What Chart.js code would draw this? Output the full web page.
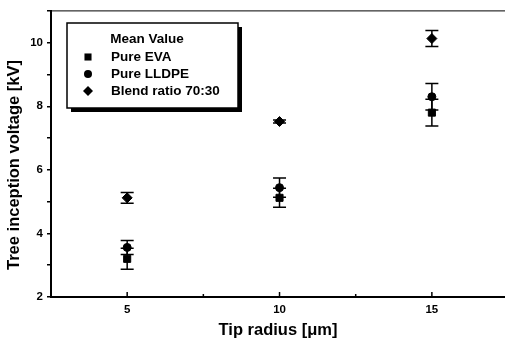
<!DOCTYPE html>
<html>
<head>
<meta charset="utf-8">
<script src="https://cdn.jsdelivr.net/npm/chart.js@4"></script>
<style>
  html, body { margin: 0; padding: 0; background: #fff; overflow: hidden; }
  #wrap { width: 505px; height: 343px; overflow: hidden; }
</style>
</head>
<body>
<div id="wrap"><canvas id="chartCanvas" width="511" height="343"></canvas></div>
<script>
// Datos
const radios = [5, 10, 15];
const evaMedia = [3.2, 5.12, 7.8];
const evaError = [0.33, 0.3, 0.42];
const lldpeMedia = [3.56, 5.44, 8.3];
const lldpeError = [0.22, 0.3, 0.42];
const mezclaMedia = [5.12, 7.52, 10.13];
const mezclaError = [0.17, 0.05, 0.25];
const etiquetasX = [5, 10, 15];
const etiquetasY = [2, 4, 6, 8, 10];

const fuente = '"Liberation Sans", Arial, sans-serif';

function puntos(medias) {
    return radios.map((r, i) => ({ x: r, y: medias[i] }));
}

// Barras de error dibujadas con las escalas de la grafica
const barrasError = {
    id: 'barrasError',
    afterDatasetsDraw(chart) {
        const c = chart.ctx;
        const sx = chart.scales.x, sy = chart.scales.y;
        c.save();
        c.strokeStyle = '#000';
        c.lineWidth = 1.5;
        chart.data.datasets.forEach(ds => {
            ds.puntos.forEach((p, i) => {
                const px = sx.getPixelForValue(p.x);
                const arriba = sy.getPixelForValue(p.y + ds.errores[i]);
                const abajo = sy.getPixelForValue(p.y - ds.errores[i]);
                c.beginPath();
                c.moveTo(px, arriba); c.lineTo(px, abajo);
                c.moveTo(px - 6.5, arriba); c.lineTo(px + 6.5, arriba);
                c.moveTo(px - 6.5, abajo); c.lineTo(px + 6.5, abajo);
                c.stroke();
            });
        });
        c.restore();
    },
    afterDraw(chart) {
        const c = chart.ctx;
        const a = chart.chartArea;
        const sx = chart.scales.x;
        c.save();
        // marcas del eje x hacia dentro
        c.strokeStyle = '#000';
        c.lineWidth = 1.5;
        [5, 7.5, 10, 12.5, 15].forEach(v => {
            const px = sx.getPixelForValue(v);
            const largo = etiquetasX.includes(v) ? 5 : 3;
            c.beginPath();
            c.moveTo(px, a.bottom); c.lineTo(px, a.bottom - largo);
            c.stroke();
        });
        // borde superior
        c.lineWidth = 1;
        c.beginPath();
        c.moveTo(a.left, a.top); c.lineTo(a.right, a.top);
        c.stroke();

        // titulos de los ejes
        c.fillStyle = '#000';
        c.textAlign = 'center';
        c.textBaseline = 'middle';
        c.font = 'bold 16.5px ' + fuente;
        c.fillText('Tip radius [\u03bcm]', 278, 330);
        c.save();
        c.translate(14, 165);
        c.rotate(-Math.PI / 2);
        c.font = 'bold 16.5px ' + fuente;
        c.fillText('Tree inception voltage [kV]', 0, 0);
        c.restore();

        // leyenda con sombra
        const lx = 67, ly = 23, lw = 171, lh = 85;
        c.fillStyle = '#000';
        c.fillRect(lx + 4, ly + 4, lw, lh);
        c.fillStyle = '#fff';
        c.fillRect(lx, ly, lw, lh);
        c.strokeStyle = '#000';
        c.lineWidth = 1.5;
        c.strokeRect(lx, ly, lw, lh);
        c.fillStyle = '#000';
        c.font = 'bold 13.5px ' + fuente;
        c.textAlign = 'center';
        c.fillText('Mean Value', 147, 39);
        c.textAlign = 'left';
        const filas = [57, 74, 91];
        chart.data.datasets.forEach((ds, i) => {
            c.fillText(ds.label, 111, filas[i]);
            Chart.helpers.drawPoint(c, {
                pointStyle: ds.pointStyle,
                radius: ds.pointRadius,
                borderWidth: 0
            }, 88, filas[i]);
        });
        c.restore();
    }
};

const ctx = document.getElementById('chartCanvas').getContext('2d');
const chart = new Chart(ctx, {
    type: 'scatter',
    data: {
        datasets: [
            {
                label: 'Pure EVA',
                data: puntos(evaMedia),
                puntos: puntos(evaMedia),
                errores: evaError,
                pointStyle: 'rect',
                pointRadius: 5,
                backgroundColor: '#000',
                borderColor: '#000'
            },
            {
                label: 'Pure LLDPE',
                data: puntos(lldpeMedia),
                puntos: puntos(lldpeMedia),
                errores: lldpeError,
                pointStyle: 'circle',
                pointRadius: 4,
                backgroundColor: '#000',
                borderColor: '#000'
            },
            {
                label: 'Blend ratio 70:30',
                data: puntos(mezclaMedia),
                puntos: puntos(mezclaMedia),
                errores: mezclaError,
                pointStyle: 'rectRot',
                pointRadius: 5,
                backgroundColor: '#000',
                borderColor: '#000'
            }
        ]
    },
    options: {
        responsive: false,
        animation: false,
        layout: { padding: { top: 9, right: 0, left: 0, bottom: 0 } },
        plugins: {
            legend: { display: false },
            tooltip: { enabled: false }
        },
        scales: {
            x: {
                type: 'linear',
                min: 2.5,
                max: 17.4,
                afterBuildTicks: s => {
                    s.ticks = [5, 7.5, 10, 12.5, 15].map(v => ({ value: v }));
                },
                afterFit: s => { s.height = 46; s.paddingRight = 0; s.paddingLeft = 0; },
                border: { color: '#000', width: 2 },
                grid: { display: false, drawTicks: false },
                ticks: {
                    padding: 6,
                    color: '#000',
                    font: { family: fuente, size: 11.5, weight: 'bold' },
                    callback: v => etiquetasX.includes(v) ? String(v) : ''
                }
            },
            y: {
                min: 2,
                max: 11,
                afterFit: s => { s.width = 51; },
                border: { color: '#000', width: 2 },
                grid: { drawOnChartArea: false, drawTicks: true, tickLength: 4, color: '#000', lineWidth: 1.5 },
                ticks: {
                    stepSize: 1,
                    padding: 4,
                    color: '#000',
                    font: { family: fuente, size: 11.5, weight: 'bold' },
                    callback: v => etiquetasY.includes(v) ? String(v) : ''
                }
            }
        }
    },
    plugins: [barrasError]
});
</script>
</body>
</html>
